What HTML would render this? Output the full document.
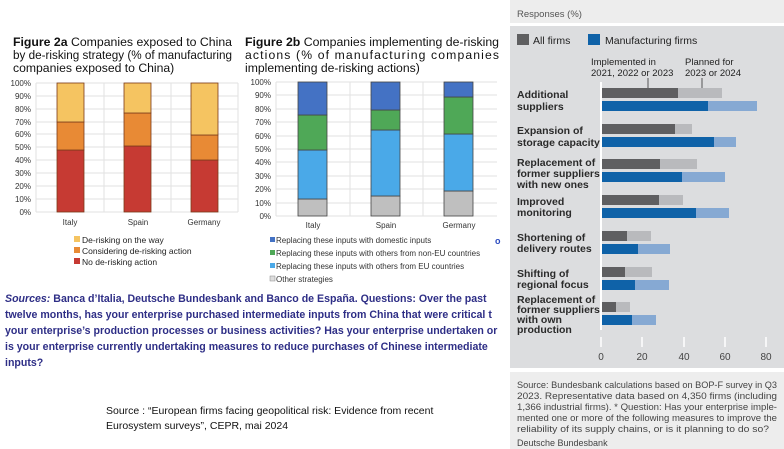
<!DOCTYPE html>
<html><head><meta charset="utf-8"><style>
body{margin:0;width:784px;height:449px;overflow:hidden;background:#fff;font-family:"Liberation Sans",Arial,sans-serif}
svg{position:absolute;left:0;top:0}
</style></head><body>
<svg width="784" height="449" viewBox="0 0 784 449" xmlns="http://www.w3.org/2000/svg" font-family="Liberation Sans, Arial, sans-serif">
<!-- Figure 2a -->
<g font-size="12.2" fill="#111">
<text x="13" y="46" textLength="219" lengthAdjust="spacingAndGlyphs"><tspan font-weight="bold">Figure 2a</tspan> Companies exposed to China</text>
<text x="13" y="59" textLength="219" lengthAdjust="spacingAndGlyphs">by de-risking strategy (% of manufacturing</text>
<text x="13" y="72">companies exposed to China)</text>
</g>
<g stroke="#e2e2e2" stroke-width="1">
<line x1="36" y1="83" x2="238" y2="83"/><line x1="36" y1="96" x2="238" y2="96"/><line x1="36" y1="109" x2="238" y2="109"/><line x1="36" y1="122" x2="238" y2="122"/><line x1="36" y1="134" x2="238" y2="134"/><line x1="36" y1="147" x2="238" y2="147"/><line x1="36" y1="160" x2="238" y2="160"/><line x1="36" y1="173" x2="238" y2="173"/><line x1="36" y1="186" x2="238" y2="186"/><line x1="36" y1="199" x2="238" y2="199"/><line x1="36" y1="212" x2="238" y2="212"/>
<line x1="36" y1="83" x2="36" y2="212"/><line x1="104" y1="83" x2="104" y2="212"/><line x1="171" y1="83" x2="171" y2="212"/><line x1="238" y1="83" x2="238" y2="212"/>
</g>
<g font-size="8" fill="#333" text-anchor="end">
<text x="31" y="86">100%</text><text x="31" y="99">90%</text><text x="31" y="112">80%</text><text x="31" y="125">70%</text><text x="31" y="137">60%</text><text x="31" y="150">50%</text><text x="31" y="163">40%</text><text x="31" y="176">30%</text><text x="31" y="189">20%</text><text x="31" y="202">10%</text><text x="31" y="215">0%</text>
</g>
<g stroke="#7a3a1a" stroke-width="0.8">
<rect x="57" y="150" width="27" height="62" fill="#c63a33"/><rect x="57" y="122" width="27" height="28" fill="#e88a35"/><rect x="57" y="83" width="27" height="39" fill="#f5c461"/>
<rect x="124" y="146" width="27" height="66" fill="#c63a33"/><rect x="124" y="113" width="27" height="33" fill="#e88a35"/><rect x="124" y="83" width="27" height="30" fill="#f5c461"/>
<rect x="191" y="160" width="27" height="52" fill="#c63a33"/><rect x="191" y="135" width="27" height="25" fill="#e88a35"/><rect x="191" y="83" width="27" height="52" fill="#f5c461"/>
</g>
<g font-size="8" fill="#333" text-anchor="middle">
<text x="70" y="225">Italy</text><text x="138" y="225">Spain</text><text x="204" y="225">Germany</text>
</g>
<g font-size="8.5" fill="#222">
<rect x="74" y="236" width="6" height="6" fill="#f5c461"/><text x="82" y="243">De-risking on the way</text>
<rect x="74" y="247" width="6" height="6" fill="#e88a35"/><text x="82" y="254">Considering de-risking action</text>
<rect x="74" y="258" width="6" height="6" fill="#c63a33"/><text x="82" y="265">No de-risking action</text>
</g>
<!-- Figure 2b -->
<g font-size="12.2" fill="#111">
<text x="245" y="46" textLength="254" lengthAdjust="spacingAndGlyphs"><tspan font-weight="bold">Figure 2b</tspan> Companies implementing de-risking</text>
<text x="245" y="59" textLength="254" lengthAdjust="spacing">actions (% of manufacturing companies</text>
<text x="245" y="72">implementing de-risking actions)</text>
</g>
<g stroke="#e2e2e2" stroke-width="1">
<line x1="276" y1="82" x2="497" y2="82"/><line x1="276" y1="95" x2="497" y2="95"/><line x1="276" y1="109" x2="497" y2="109"/><line x1="276" y1="122" x2="497" y2="122"/><line x1="276" y1="136" x2="497" y2="136"/><line x1="276" y1="149" x2="497" y2="149"/><line x1="276" y1="162" x2="497" y2="162"/><line x1="276" y1="176" x2="497" y2="176"/><line x1="276" y1="189" x2="497" y2="189"/><line x1="276" y1="203" x2="497" y2="203"/><line x1="276" y1="216" x2="497" y2="216"/>
<line x1="276" y1="82" x2="276" y2="216"/><line x1="350" y1="82" x2="350" y2="216"/><line x1="423" y1="82" x2="423" y2="216"/>
</g>
<g font-size="8" fill="#333" text-anchor="end">
<text x="271" y="85">100%</text><text x="271" y="98">90%</text><text x="271" y="112">80%</text><text x="271" y="125">70%</text><text x="271" y="139">60%</text><text x="271" y="152">50%</text><text x="271" y="165">40%</text><text x="271" y="179">30%</text><text x="271" y="192">20%</text><text x="271" y="206">10%</text><text x="271" y="219">0%</text>
</g>
<g stroke="#444" stroke-width="0.8">
<rect x="298" y="199" width="29" height="17" fill="#bfbfbf"/><rect x="298" y="150" width="29" height="49" fill="#4aa9e8"/><rect x="298" y="115" width="29" height="35" fill="#4fa857"/><rect x="298" y="82" width="29" height="33" fill="#4472c4"/>
<rect x="371" y="196" width="29" height="20" fill="#bfbfbf"/><rect x="371" y="130" width="29" height="66" fill="#4aa9e8"/><rect x="371" y="110" width="29" height="20" fill="#4fa857"/><rect x="371" y="82" width="29" height="28" fill="#4472c4"/>
<rect x="444" y="191" width="29" height="25" fill="#bfbfbf"/><rect x="444" y="134" width="29" height="57" fill="#4aa9e8"/><rect x="444" y="97" width="29" height="37" fill="#4fa857"/><rect x="444" y="82" width="29" height="15" fill="#4472c4"/>
</g>
<g font-size="8" fill="#333" text-anchor="middle">
<text x="313" y="228">Italy</text><text x="386" y="228">Spain</text><text x="459" y="228">Germany</text>
</g>
<g font-size="8" fill="#333">
<rect x="270" y="237" width="5" height="5" fill="#4472c4"/><text x="276" y="243">Replacing these inputs with domestic inputs</text>
<rect x="270" y="250" width="5" height="5" fill="#4fa857"/><text x="276" y="256">Replacing these inputs with others from non-EU countries</text>
<rect x="270" y="263" width="5" height="5" fill="#4aa9e8"/><text x="276" y="269">Replacing these inputs with others from EU countries</text>
<rect x="270" y="276" width="5" height="5" fill="#ddd" stroke="#888" stroke-width="0.5"/><text x="276" y="282">Other strategies</text>
<text x="495" y="244" fill="#2b4bbf" font-weight="bold" font-size="9">o</text>
</g>
<!-- Sources text -->
<g font-size="10.6" font-weight="bold" fill="#2e2e86">
<text x="5" y="302"><tspan font-style="italic">Sources:</tspan> Banca d’Italia, Deutsche Bundesbank and Banco de España. Questions: Over the past</text>
<text x="5" y="318">twelve months, has your enterprise purchased intermediate inputs from China that were critical t</text>
<text x="5" y="334">your enterprise’s production processes or business activities? Has your enterprise undertaken or</text>
<text x="5" y="350">is your enterprise currently undertaking measures to reduce purchases of Chinese intermediate</text>
<text x="5" y="366">inputs?</text>
</g>
<g font-size="10.5" fill="#111">
<text x="106" y="414">Source : “European firms facing geopolitical risk: Evidence from recent</text>
<text x="106" y="429">Eurosystem surveys”, CEPR, mai 2024</text>
</g>
<!-- Right panel -->
<rect x="510" y="0" width="274" height="23" fill="#ededed"/>
<text x="517" y="17" font-size="9.5" fill="#555">Responses (%)</text>
<rect x="510" y="26" width="274" height="342" fill="#dcdddf"/>
<rect x="510" y="372" width="274" height="77" fill="#ededed"/>
<rect x="517" y="34" width="12" height="11" fill="#5f5f61"/><text x="533" y="44" font-size="10.5" fill="#222">All firms</text>
<rect x="588" y="34" width="12" height="11" fill="#0f62a8"/><text x="605" y="44" font-size="10.5" fill="#222">Manufacturing firms</text>
<g font-size="9.5" fill="#222">
<text x="591" y="65">Implemented in</text><text x="591" y="76">2021, 2022 or 2023</text>
<text x="685" y="65">Planned for</text><text x="685" y="76">2023 or 2024</text>
</g>
<line x1="648" y1="78" x2="648" y2="89" stroke="#333" stroke-width="0.8"/>
<line x1="702" y1="78" x2="702" y2="89" stroke="#333" stroke-width="0.8"/>
<line x1="601" y1="82" x2="601" y2="330" stroke="#fff" stroke-width="2"/>
<g>
<rect x="602" y="88" width="120" height="10" fill="#b9babd"/><rect x="602" y="88" width="76" height="10" fill="#5f5f61"/>
<rect x="602" y="101" width="155" height="10" fill="#86a9d3"/><rect x="602" y="101" width="106" height="10" fill="#0f62a8"/>
<rect x="602" y="124" width="90" height="10" fill="#b9babd"/><rect x="602" y="124" width="73" height="10" fill="#5f5f61"/>
<rect x="602" y="137" width="134" height="10" fill="#86a9d3"/><rect x="602" y="137" width="112" height="10" fill="#0f62a8"/>
<rect x="602" y="159" width="95" height="10" fill="#b9babd"/><rect x="602" y="159" width="58" height="10" fill="#5f5f61"/>
<rect x="602" y="172" width="123" height="10" fill="#86a9d3"/><rect x="602" y="172" width="80" height="10" fill="#0f62a8"/>
<rect x="602" y="195" width="81" height="10" fill="#b9babd"/><rect x="602" y="195" width="57" height="10" fill="#5f5f61"/>
<rect x="602" y="208" width="127" height="10" fill="#86a9d3"/><rect x="602" y="208" width="94" height="10" fill="#0f62a8"/>
<rect x="602" y="231" width="49" height="10" fill="#b9babd"/><rect x="602" y="231" width="25" height="10" fill="#5f5f61"/>
<rect x="602" y="244" width="68" height="10" fill="#86a9d3"/><rect x="602" y="244" width="36" height="10" fill="#0f62a8"/>
<rect x="602" y="267" width="50" height="10" fill="#b9babd"/><rect x="602" y="267" width="23" height="10" fill="#5f5f61"/>
<rect x="602" y="280" width="67" height="10" fill="#86a9d3"/><rect x="602" y="280" width="33" height="10" fill="#0f62a8"/>
<rect x="602" y="302" width="28" height="10" fill="#b9babd"/><rect x="602" y="302" width="14" height="10" fill="#5f5f61"/>
<rect x="602" y="315" width="54" height="10" fill="#86a9d3"/><rect x="602" y="315" width="30" height="10" fill="#0f62a8"/>
</g>
<g font-size="10.5" font-weight="bold" fill="#2a2a2a">
<text x="517" y="98">Additional</text><text x="517" y="110">suppliers</text>
<text x="517" y="134">Expansion of</text><text x="517" y="146">storage capacity</text>
<text x="517" y="166">Replacement of</text><text x="517" y="177">former suppliers</text><text x="517" y="188">with new ones</text>
<text x="517" y="205">Improved</text><text x="517" y="216">monitoring</text>
<text x="517" y="241">Shortening of</text><text x="517" y="252">delivery routes</text>
<text x="517" y="277">Shifting of</text><text x="517" y="288">regional focus</text>
<text x="517" y="303">Replacement of</text><text x="517" y="313">former suppliers</text><text x="517" y="323">with own</text><text x="517" y="333">production</text>
</g>
<g stroke="#fff" stroke-width="1.5">
<line x1="601" y1="337" x2="601" y2="347"/><line x1="642" y1="337" x2="642" y2="347"/><line x1="684" y1="337" x2="684" y2="347"/><line x1="725" y1="337" x2="725" y2="347"/><line x1="766" y1="337" x2="766" y2="347"/>
</g>
<g font-size="10" fill="#444" text-anchor="middle">
<text x="601" y="360">0</text><text x="642" y="360">20</text><text x="684" y="360">40</text><text x="725" y="360">60</text><text x="766" y="360">80</text>
</g>
<g font-size="9" fill="#444">
<text x="517" y="388" textLength="260" lengthAdjust="spacingAndGlyphs">Source: Bundesbank calculations based on BOP-F survey in Q3</text>
<text x="517" y="399" textLength="260" lengthAdjust="spacingAndGlyphs">2023. Representative data based on 4,350 firms (including</text>
<text x="517" y="410" textLength="260" lengthAdjust="spacingAndGlyphs">1,366 industrial firms). * Question: Has your enterprise imple-</text>
<text x="517" y="421" textLength="260" lengthAdjust="spacingAndGlyphs">mented one or more of the following measures to improve the</text>
<text x="517" y="432" textLength="252" lengthAdjust="spacingAndGlyphs">reliability of its supply chains, or is it planning to do so?</text>
<text x="517" y="446">Deutsche Bundesbank</text>
</g>
</svg>
</body></html>
